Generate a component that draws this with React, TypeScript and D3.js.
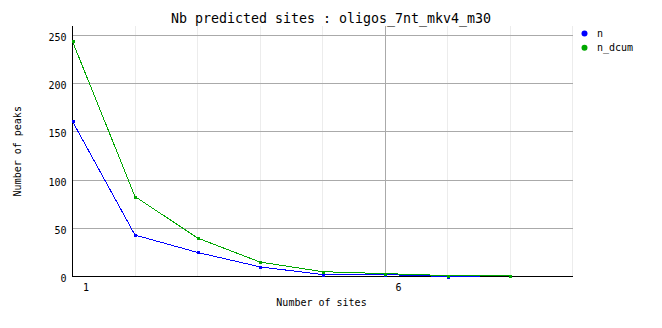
import React from "react";
import * as d3 from "d3";

const sites = [1, 2, 3, 4, 5, 6, 7, 8];
const nValues = [161, 43, 25, 10, 2, 2, 0, 1];
const nDcumValues = [244, 83, 40, 15, 5, 3, 1, 1];
const yTicks = [0, 50, 100, 150, 200, 250];
const xMajorTicks = [1, 6];
const xMinorTicks = [2, 3, 4, 5, 7, 8, 9];
const seriesNames = ["n", "n_dcum"];
const seriesColors = ["#0000ff", "#00a800"];
const title = "Nb predicted sites : oligos_7nt_mkv4_m30";

const W = 662, H = 328;
const left = 72.5, right = 572.5, top = 26, bottom = 276.5;
const FONT = "'DejaVu Sans Mono', monospace";

export default function App() {
  const x = d3.scaleLinear().domain([1, 9]).range([left, right]);
  const y = d3.scaleLinear().domain([0, 260]).range([bottom, top]);
  const line = d3.line<number>().x((_, i) => x(sites[i])).y((d) => y(d));
  const series = [nValues, nDcumValues];
  const snap = (v: number) => Math.round(v - 0.5) + 0.5;

  return (
    <svg width={W} height={H} style={{ position: "absolute", left: 0, top: 0, background: "#fff" }}>
      <rect x={0} y={0} width={W} height={H} fill="#fff" />
      {xMinorTicks.map((t) => (
        <line key={"mx" + t} x1={snap(x(t))} x2={snap(x(t))} y1={top} y2={bottom} stroke="#ececec" shapeRendering="crispEdges" />
      ))}
      {xMajorTicks.map((t) => (
        <line key={"Mx" + t} x1={snap(x(t))} x2={snap(x(t))} y1={top} y2={bottom} stroke="#aaaaaa" shapeRendering="crispEdges" />
      ))}
      {yTicks.map((t) => (
        <line key={"gy" + t} x1={left} x2={right} y1={snap(y(t))} y2={snap(y(t))} stroke="#aaaaaa" shapeRendering="crispEdges" />
      ))}
      <line x1={snap(left)} x2={snap(left)} y1={top} y2={bottom} stroke="#000" shapeRendering="crispEdges" />
      <line x1={left} x2={right} y1={snap(bottom)} y2={snap(bottom)} stroke="#000" shapeRendering="crispEdges" />
      {series.map((s, i) => (
        <path key={"s" + i} d={line(s) || ""} fill="none" stroke={seriesColors[i]} strokeWidth={1} shapeRendering="crispEdges" />
      ))}
      {series.map((s, i) =>
        s.map((v, j) => (
          <rect key={"p" + i + "-" + j} x={Math.round(x(sites[j])) - 1.5} y={Math.round(y(v)) - 1.5} width={3} height={3} fill={seriesColors[i]} shapeRendering="crispEdges" />
        ))
      )}
      {yTicks.map((t) => (
        <text key={"ty" + t} x={66.5} y={y(t) + 5.5} textAnchor="end" fontFamily={FONT} fontSize={10} fill="#000">{t}</text>
      ))}
      {xMajorTicks.map((t) => (
        <text key={"tx" + t} x={x(t) + 13.5} y={291} textAnchor="middle" fontFamily={FONT} fontSize={10} fill="#000">{t}</text>
      ))}
      <text x={331} y={23} textAnchor="middle" fontFamily={FONT} fontSize={13.3} fill="#000">{title}</text>
      <text x={(left + right) / 2 - 1} y={306} textAnchor="middle" fontFamily={FONT} fontSize={10} fill="#000">Number of sites</text>
      <text transform={`translate(21,${(top + bottom) / 2}) rotate(-90)`} textAnchor="middle" fontFamily={FONT} fontSize={10} fill="#000">Number of peaks</text>
      {seriesNames.map((name, i) => (
        <g key={"lg" + i}>
          <circle cx={584.5} cy={33.5 + i * 14.3} r={3} fill={seriesColors[i]} />
          <text x={597} y={37 + i * 14.3} fontFamily={FONT} fontSize={10} fill="#000">{name}</text>
        </g>
      ))}
    </svg>
  );
}
